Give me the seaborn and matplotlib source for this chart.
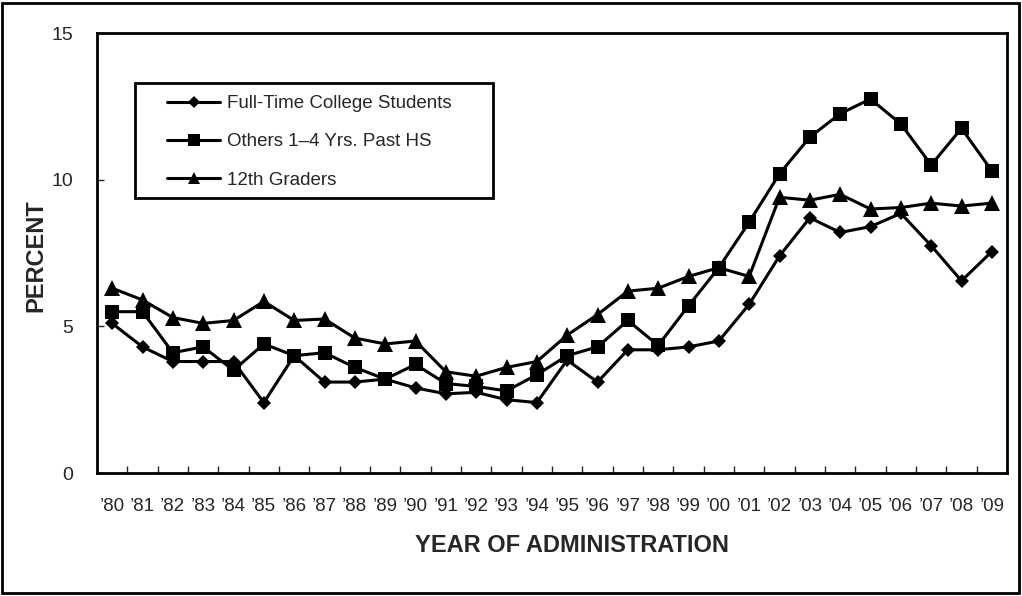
import matplotlib
matplotlib.use("Agg")
import matplotlib.pyplot as plt
import pandas as pd
import seaborn as sns
from matplotlib.patches import Rectangle

years = ["\u201980", "\u201981", "\u201982", "\u201983", "\u201984", "\u201985",
         "\u201986", "\u201987", "\u201988", "\u201989", "\u201990", "\u201991",
         "\u201992", "\u201993", "\u201994", "\u201995", "\u201996", "\u201997",
         "\u201998", "\u201999", "\u201900", "\u201901", "\u201902", "\u201903",
         "\u201904", "\u201905", "\u201906", "\u201907", "\u201908", "\u201909"]

full_time = [5.1, 4.3, 3.8, 3.8, 3.8, 2.4, 4.0, 3.1, 3.1, 3.2,
             2.9, 2.7, 2.75, 2.5, 2.4, 3.85, 3.1, 4.2, 4.2, 4.3,
             4.5, 5.75, 7.4, 8.7, 8.2, 8.4, 8.85, 7.75, 6.55, 7.55]
others = [5.5, 5.5, 4.1, 4.3, 3.5, 4.4, 4.0, 4.1, 3.6, 3.2,
          3.7, 3.05, 2.95, 2.8, 3.35, 4.0, 4.3, 5.2, 4.35, 5.7,
          7.0, 8.55, 10.2, 11.45, 12.25, 12.75, 11.9, 10.5, 11.75, 10.3]
grade12 = [6.3, 5.9, 5.3, 5.1, 5.2, 5.85, 5.2, 5.25, 4.6, 4.4,
           4.5, 3.45, 3.3, 3.6, 3.8, 4.7, 5.4, 6.2, 6.3, 6.7,
           7.0, 6.7, 9.4, 9.3, 9.5, 9.0, 9.05, 9.2, 9.1, 9.2]

labels = ["Full-Time College Students", "Others 1\u20134 Yrs. Past HS", "12th Graders"]

sns.set_style("white")
plt.rcParams["font.family"] = ["Liberation Sans", "DejaVu Sans"]

W, H = 1022, 596
fig = plt.figure(figsize=(W / 100, H / 100), dpi=100)
ax = fig.add_axes([97 / W, (H - 473) / H, 910 / W, 440 / H])

idx = list(range(len(years)))
df = pd.DataFrame({"idx": idx, "full": full_time, "others": others, "g12": grade12})

# marker, size, zorder per series
styles = [("full", "D", 7.4, 5), ("others", "s", 10, 4), ("g12", "^", 11, 3)]
for (col, mk, ms, z), lab in zip(styles, labels):
    sns.lineplot(data=df, x="idx", y=col, ax=ax, color="black", linewidth=2.2,
                 marker=mk, markersize=ms, markeredgewidth=0, label=lab, zorder=z)

ax.set_xlim(-0.5, len(years) - 0.5)
ax.set_ylim(0, 15)
ax.set_yticks([0, 5, 10, 15])
ax.set_xticks(idx)
ax.set_xticklabels(years)
ax.set_xticks([i - 0.5 for i in range(len(years) + 1)], minor=True)
ax.tick_params(axis="x", which="major", length=0, pad=18, labelsize=13.5)
ax.tick_params(axis="x", which="minor", direction="in", length=5, width=1, bottom=True)
ax.tick_params(axis="y", direction="in", length=5, width=1, left=True, pad=17, labelsize=14)
ax.set_xlabel("")
ax.set_ylabel("")
for s in ax.spines.values():
    s.set_color("black")
    s.set_linewidth(2)

fig.text(572 / W, 1 - 545 / H, "YEAR OF ADMINISTRATION", ha="center", va="center",
         fontsize=17, fontweight="bold")
fig.text(36 / W, 1 - 256 / H, "PERCENT", ha="center", va="center",
         rotation=90, fontsize=17, fontweight="bold")

leg = ax.legend(loc="upper left", bbox_to_anchor=(167 / W, 1 - 95 / H),
                bbox_transform=fig.transFigure, frameon=False, fontsize=13.5,
                handlelength=2.83, handletextpad=0.37, labelspacing=1.13,
                borderpad=0, borderaxespad=0, markerscale=0.8)

fig.patches.append(Rectangle((135 / W, 1 - 198 / H), (493 - 135) / W, (198 - 83) / H,
                             transform=fig.transFigure, fill=False,
                             edgecolor="black", linewidth=2, zorder=10))
fig.patches.append(Rectangle((2 / W, 3 / H), (W - 5) / W, (H - 6) / H,
                             transform=fig.transFigure, fill=False,
                             edgecolor="black", linewidth=2))

fig.savefig("out.png", dpi=100)
